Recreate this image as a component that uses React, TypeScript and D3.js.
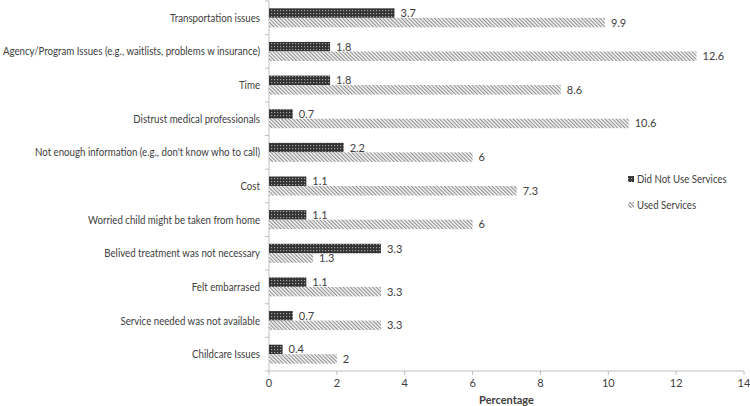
import React from "react";
import * as d3 from "d3";

const categories = [
  "Transportation issues",
  "Agency/Program Issues (e.g., waitlists, problems w insurance)",
  "Time",
  "Distrust medical professionals",
  "Not enough information (e.g., don't know who to call)",
  "Cost",
  "Worried child might be taken from home",
  "Belived treatment was not necessary",
  "Felt embarrased",
  "Service needed was not available",
  "Childcare Issues",
];
const didNotUse = [3.7, 1.8, 1.8, 0.7, 2.2, 1.1, 1.1, 3.3, 1.1, 0.7, 0.4];
const usedServices = [9.9, 12.6, 8.6, 10.6, 6, 7.3, 6, 1.3, 3.3, 3.3, 2];
const seriesNames = ["Did Not Use Services", "Used Services"];
const xTicks = [0, 2, 4, 6, 8, 10, 12, 14];

export default function App() {
  const W = 750, H = 406;
  const left = 269, right = 744, top = 1, bottom = 371;
  const x = d3.scaleLinear().domain([0, 14]).range([left, right]);
  const y = d3.scaleBand<string>().domain(categories).range([top, bottom]);
  const bw = y.bandwidth();
  const barH = 9.5;
  const font = "Lato, 'Open Sans', sans-serif";
  const axisColor = "#bfbfbf";
  const txt = "#404040";
  const sx = 0.88;

  return (
    <svg width={W} height={H} style={{ position: "absolute", left: 0, top: 0 }}>
      <defs>
        <pattern id="dark" width="3" height="3" patternUnits="userSpaceOnUse">
          <rect width="3" height="3" fill="#333" />
          <rect x="1" y="1" width="1.2" height="1.2" fill="#a0a0a0" />
        </pattern>
        <pattern id="light" width="2.6" height="2.6" patternUnits="userSpaceOnUse" patternTransform="rotate(-45)">
          <rect width="2.6" height="2.6" fill="#f2f2f2" />
          <rect width="1" height="2.6" fill="#8c8c8c" />
        </pattern>
      </defs>
      <rect width={W} height={H} fill="#fff" />
      {/* y axis */}
      <line x1={left} x2={left} y1={top} y2={bottom} stroke={axisColor} />
      {d3.range(categories.length + 1).map((i) => {
        const yy = top + i * bw;
        return <line key={"yt" + i} x1={left - 4} x2={left} y1={yy} y2={yy} stroke={axisColor} />;
      })}
      {/* x axis */}
      <line x1={left} x2={right} y1={bottom} y2={bottom} stroke={axisColor} />
      {xTicks.map((t) => (
        <g key={"xt" + t}>
          <line x1={x(t)} x2={x(t)} y1={bottom} y2={bottom + 4} stroke={axisColor} />
          <text x={x(t)} y={bottom + 16} textAnchor="middle" fontSize={11} fontFamily={font} fill={txt}>{t}</text>
        </g>
      ))}
      <text x={(left + right) / 2} y={404} textAnchor="middle" fontSize={11} fontWeight="bold" fontFamily={font} fill={txt}>Percentage</text>
      {categories.map((c, i) => {
        const c0 = (y(c) as number) + bw / 2;
        return (
          <g key={c}>
            <g transform={`translate(260,${c0 + 4}) scale(${sx},1)`}>
              <text x={0} y={0} textAnchor="end" fontSize={11} fontFamily={font} fill={txt}>{c}</text>
            </g>
            <rect x={x(0)} y={c0 - barH} width={x(didNotUse[i]) - x(0)} height={barH} fill="url(#dark)" />
            <rect x={x(0)} y={c0} width={x(usedServices[i]) - x(0)} height={barH} fill="url(#light)" />
            <text x={x(didNotUse[i]) + 6} y={c0 - barH / 2 + 4} fontSize={11} fontFamily={font} fill={txt}>{didNotUse[i]}</text>
            <text x={x(usedServices[i]) + 6} y={c0 + barH / 2 + 4} fontSize={11} fontFamily={font} fill={txt}>{usedServices[i]}</text>
          </g>
        );
      })}
      {/* legend */}
      {seriesNames.map((s, i) => (
        <g key={s}>
          <rect x={628} y={176 + i * 26} width={6} height={6} fill={i === 0 ? "url(#dark)" : "url(#light)"} />
          <g transform={`translate(637,${183 + i * 26}) scale(${sx},1)`}>
            <text x={0} y={0} fontSize={11} fontFamily={font} fill={txt}>{s}</text>
          </g>
        </g>
      ))}
    </svg>
  );
}
